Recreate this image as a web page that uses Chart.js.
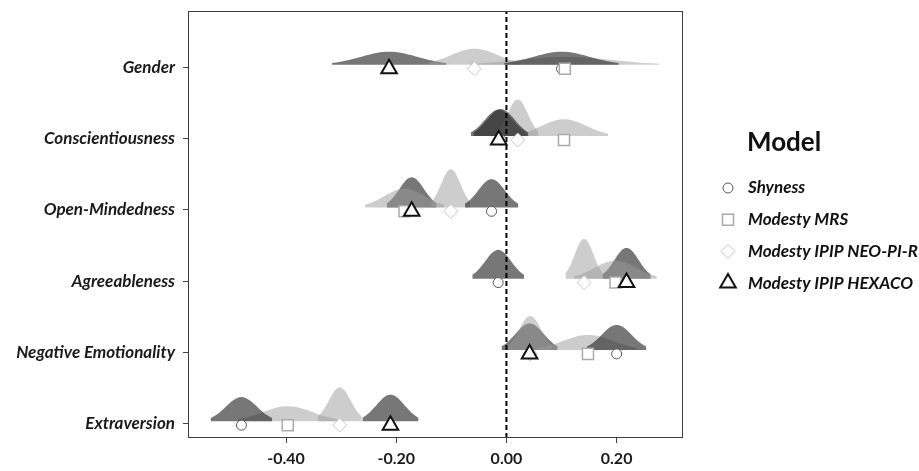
<!DOCTYPE html>
<html>
<head>
<meta charset="utf-8">
<script src="https://cdn.jsdelivr.net/npm/chart.js@4.4.0/dist/chart.umd.min.js"></script>
<style>
	html, body { margin: 0; padding: 0; background: #fff; }
	#wrap { position: relative; width: 919px; height: 471px; }
</style>
</head>
<body>
<div id="wrap"><canvas id="mycanvas" width="919" height="471"></canvas></div>
<script>
// traits, top to bottom
var traits = ['Gender', 'Conscientiousness', 'Open-Mindedness', 'Agreeableness', 'Negative Emotionality', 'Extraversion'];
var models = ['Shyness', 'Modesty MRS', 'Modesty IPIP NEO-PI-R', 'Modesty IPIP HEXACO'];

// estimate and its standard error, one value per trait
var shynessEst = [0.100, -0.010, -0.027, -0.015, 0.200, -0.481];
var shynessSE = [0.052, 0.025, 0.024, 0.0235, 0.027, 0.028];
var mrsEst = [0.106, 0.1045, -0.185, 0.198, 0.148, -0.397];
var mrsSE = [0.086, 0.040, 0.036, 0.0375, 0.045, 0.045];
var neoEst = [-0.058, 0.0205, -0.101, 0.141, 0.043, -0.3025];
var neoSE = [0.042, 0.0185, 0.0177, 0.017, 0.020, 0.020];
var hexacoEst = [-0.213, -0.014, -0.172, 0.218, 0.042, -0.2105];
var hexacoSE = [0.052, 0.0255, 0.0225, 0.022, 0.0255, 0.0255];

var xTicks = [-0.4, -0.2, 0, 0.2];

var modelEst = [shynessEst, mrsEst, neoEst, hexacoEst];
var modelSE = [shynessSE, mrsSE, neoSE, hexacoSE];

var humpColors = ['rgba(40,40,40,0.63)', 'rgba(155,155,155,0.5)', 'rgba(155,155,155,0.5)', 'rgba(40,40,40,0.63)'];
var humpOrder = [10, 12, 11, 13];
var markerStyle = ['circle', 'rect', 'rectRot', 'triangle'];
var markerRadius = [5, 7.8, 7, 9];
var markerBorder = ['#555555', '#aaaaaa', '#c8c8c8', '#111111'];
var markerWidth = [1, 1.5, 1, 2];
var markerOrder = [3, 2, 1, 0];

var humpArea = 0.0095;
var xMin = -0.578, xMax = 0.3205;
var yMin = 0.80, yMax = 6.79;

function traitY(i) {
	return traits.length - i;
}

// curve over the 95% interval of each estimate
function hump(mean, se, base) {
	var pts = [];
	for (var k = -20; k <= 20; k++) {
		var z = k / 10;
		pts.push({x: mean + z * se, y: base + humpArea / se * Math.exp(-z * z / 2)});
	}
	return pts;
}

var datasets = [];

for (var m = 0; m < models.length; m++) {
	for (var i = 0; i < traits.length; i++) {
		var base = traitY(i) + 0.035;
		datasets.push({
			type: 'line',
			data: hump(modelEst[m][i], modelSE[m][i], base),
			fill: {value: base},
			backgroundColor: humpColors[m],
			borderColor: 'rgba(0,0,0,0)',
			borderWidth: 0,
			pointRadius: 0,
			tension: 0,
			order: humpOrder[m]
		});
	}
}

// zero reference line
datasets.push({
	type: 'line',
	data: [{x: 0, y: yMin}, {x: 0, y: yMax}],
	borderColor: '#000',
	borderWidth: 2,
	borderDash: [5, 3],
	pointRadius: 0,
	fill: false,
	order: 5
});

for (var m = 0; m < models.length; m++) {
	var pts = [];
	for (var i = 0; i < traits.length; i++) {
		pts.push({x: modelEst[m][i], y: traitY(i) - 0.02});
	}
	datasets.push({
		type: 'line',
		label: models[m],
		data: pts,
		showLine: false,
		pointStyle: markerStyle[m],
		pointRadius: markerRadius[m],
		pointBackgroundColor: '#ffffff',
		pointBorderColor: markerBorder[m],
		pointBorderWidth: markerWidth[m],
		order: markerOrder[m]
	});
}

var frameAndLegend = {
	id: 'frameAndLegend',
	afterDraw: function(chart) {
		var ctx = chart.ctx;
		var a = chart.chartArea;
		ctx.save();
		ctx.strokeStyle = '#3c3c3c';
		ctx.lineWidth = 1;
		ctx.strokeRect(a.left + 0.5, a.top + 0.5, a.right - a.left - 1, a.bottom - a.top - 1);

		ctx.fillStyle = '#111';
		ctx.textBaseline = 'middle';
		ctx.textAlign = 'left';
		ctx.font = 'bold 26px Lato';
		ctx.fillText('Model', 747, 143);

		ctx.font = 'bold italic 17px Lato';
		for (var m = 0; m < models.length; m++) {
			var y = 188 + m * 31.7;
			ctx.fillStyle = '#ffffff';
			ctx.strokeStyle = markerBorder[m];
			ctx.lineWidth = markerWidth[m];
			Chart.helpers.drawPoint(ctx, {
				pointStyle: markerStyle[m],
				radius: markerRadius[m],
				rotation: 0,
				borderWidth: markerWidth[m]
			}, 728, y);
			ctx.fillStyle = '#111';
			ctx.fillText(models[m], 748, y);
		}
		ctx.restore();
	}
};

var ctx = document.getElementById('mycanvas');

var chart = new Chart(ctx, {
	type: 'line',
	data: {datasets: datasets},
	plugins: [frameAndLegend],
	options: {
		responsive: false,
		animation: false,
		events: [],
		layout: {padding: {left: 0, top: 9, right: 236, bottom: 0}},
		plugins: {
			legend: {display: false},
			tooltip: {enabled: false}
		},
		scales: {
			x: {
				type: 'linear',
				min: xMin,
				max: xMax,
				afterBuildTicks: function(axis) {
					axis.ticks = xTicks.map(function(v) { return {value: v}; });
				},
				afterFit: function(axis) {
					axis.height = 33;
					axis.paddingLeft = 0;
					axis.paddingRight = 0;
				},
				ticks: {
					callback: function(v) { return v.toFixed(2); },
					color: '#1a1a1a',
					font: {family: 'Lato', size: 16, weight: 'bold'},
					padding: 6,
					maxRotation: 0
				},
				grid: {drawOnChartArea: false, tickLength: 5, color: '#444'},
				border: {display: false}
			},
			y: {
				type: 'linear',
				min: yMin,
				max: yMax,
				afterBuildTicks: function(axis) {
					axis.ticks = traits.map(function(t, i) { return {value: traitY(i)}; });
				},
				afterFit: function(axis) {
					axis.width = 188;
					axis.paddingTop = 0;
					axis.paddingBottom = 0;
				},
				ticks: {
					callback: function(v) { return traits[traits.length - v]; },
					color: '#1a1a1a',
					font: {family: 'Lato', size: 17, weight: 'bold', style: 'italic'},
					padding: 8
				},
				grid: {drawOnChartArea: false, tickLength: 5, color: '#444'},
				border: {display: false}
			}
		}
	}
});
</script>
</body>
</html>
